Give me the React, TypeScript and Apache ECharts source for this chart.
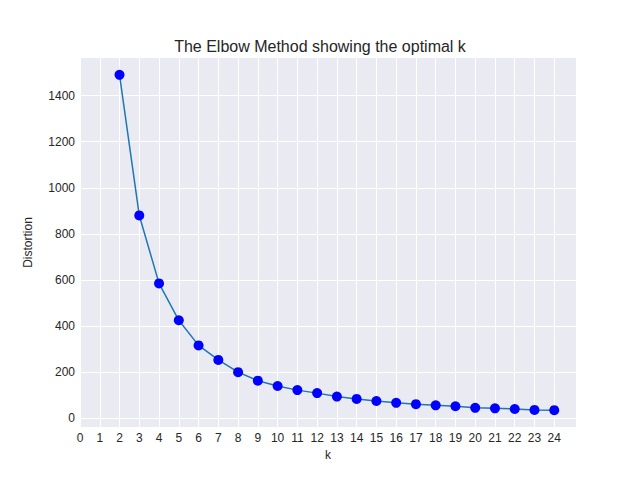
import React, { useEffect, useRef } from 'react';
import * as echarts from 'echarts';

const ks = [2, 3, 4, 5, 6, 7, 8, 9, 10, 11, 12, 13, 14, 15, 16, 17, 18, 19, 20, 21, 22, 23, 24];
const distortions = [1490, 880, 585, 425, 316, 253, 200, 163, 140, 122, 109, 94, 84, 75, 67, 61, 56, 52, 45, 43, 40, 36, 35];
const xTicks = [0, 1, 2, 3, 4, 5, 6, 7, 8, 9, 10, 11, 12, 13, 14, 15, 16, 17, 18, 19, 20, 21, 22, 23, 24];
const yTicks = [0, 200, 400, 600, 800, 1000, 1200, 1400];

const font = 'Liberation Sans';
const textColor = '#262626';

export default function App() {
  const ref = useRef<HTMLDivElement>(null);

  useEffect(() => {
    if (!ref.current) return;
    const chart = echarts.init(ref.current, null, { renderer: 'svg' });
    chart.setOption({
      animation: false,
      textStyle: { fontFamily: font },
      title: {
        text: 'The Elbow Method showing the optimal k',
        left: 'center',
        top: 33,
        textStyle: { fontFamily: font, fontSize: 16, fontWeight: 'normal', color: textColor },
      },
      grid: { left: 80, right: 64, top: 58, bottom: 53, backgroundColor: '#EAEAF2', show: true, borderWidth: 0 },
      xAxis: {
        type: 'value', min: 0, max: 25.1,
        name: 'k', nameLocation: 'middle', nameGap: 22,
        nameTextStyle: { fontSize: 12, color: textColor },
        axisLine: { show: false }, axisTick: { show: false }, axisLabel: { show: false }, splitLine: { show: false },
      },
      yAxis: {
        type: 'value', min: -38, max: 1563,
        name: 'Distortion', nameLocation: 'middle', nameGap: 46,
        nameTextStyle: { fontSize: 12, color: textColor },
        axisLine: { show: false }, axisTick: { show: false }, axisLabel: { show: false }, splitLine: { show: false },
      },
      series: [
        {
          type: 'line', data: [], z: 1, silent: true,
          markLine: {
            silent: true, symbol: 'none', animation: false, z: 1,
            lineStyle: { color: '#ffffff', width: 1, type: 'solid' },
            label: { position: 'start', color: textColor, fontSize: 12, fontFamily: font, formatter: (p: any) => String(p.value) },
            data: [
              ...xTicks.map((v) => ({ xAxis: v })),
              ...yTicks.map((v) => ({ yAxis: v })),
            ],
          },
        },
        {
          type: 'line', z: 10,
          data: ks.map((k, i) => [k, distortions[i]]),
          lineStyle: { color: '#1f77b4', width: 1.5 },
          symbol: 'circle', symbolSize: 10,
          itemStyle: { color: '#0000ff', borderWidth: 0 },
        },
      ],
    });
    return () => chart.dispose();
  }, []);

  return <div ref={ref} style={{ width: 640, height: 480, margin: -8, background: '#fff' }} />;
}
